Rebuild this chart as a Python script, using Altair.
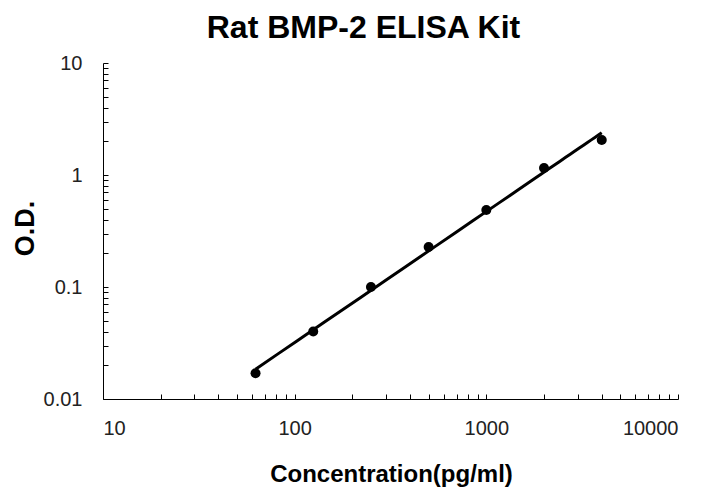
import altair as alt
import pandas as pd

# Data
conc = [62.5, 125, 250, 500, 1000, 2000, 4000]
od = [0.017, 0.040, 0.100, 0.228, 0.487, 1.155, 2.05]

x_ticks = [m * d for d in [10, 100, 1000] for m in range(1, 10)] + [10000]
y_ticks = [round(m * d, 4) for d in [0.01, 0.1, 1] for m in range(1, 10)] + [10]

df = pd.DataFrame({"conc": conc, "od": od})

label_expr = ("abs(log(datum.value)/LN10 - round(log(datum.value)/LN10)) < 1e-6 ? "
              "format(datum.value, '~g') : ''")

x_enc = alt.X("conc:Q",
              scale=alt.Scale(type="log", domain=[10, 10000], nice=False),
              axis=alt.Axis(values=x_ticks, labelExpr=label_expr, grid=False,
                            title="Concentration(pg/ml)", tickSize=alt.expr("-5"),
                            labelPadding=24, titleX=288, titleY=75, titleFontSize=24,
                            titleBaseline="middle", titleAnchor="start", titleAlign="center"))
y_enc = alt.Y("od:Q",
              scale=alt.Scale(type="log", domain=[0.01, 10], nice=False),
              axis=alt.Axis(values=y_ticks, labelExpr=label_expr, grid=False,
                            title="O.D.", tickSize=alt.expr("-5"), titleFontSize=27,
                            labelPadding=26, titleX=-78, titleY=165,
                            titleBaseline="middle", titleAlign="center", titleAngle=270))

base = alt.Chart(df)

points = base.mark_point(filled=True, color="black", size=100, opacity=1).encode(x=x_enc, y=y_enc)

line = base.transform_regression("conc", "od", method="pow").mark_line(
    color="black", strokeWidth=3).encode(x=x_enc, y=y_enc)

chart = alt.layer(line, points).properties(
    width=575, height=336,
    autosize=alt.AutoSizeParams(type="none"),
    padding={"left": 95, "top": 55, "right": 23, "bottom": 92},
    title=alt.TitleParams("Rat BMP-2 ELISA Kit", fontSize=32, font="Liberation Sans",
                          fontWeight="bold", color="black", anchor="middle", dx=-27, offset=8),
).configure_view(stroke=None).configure_axis(
    labelFont="Liberation Sans", labelFontSize=20, labelColor="#222",
    titleFont="Liberation Sans", titleFontWeight="bold", titleColor="black",
    domainColor="black", tickColor="black", domainWidth=1, tickWidth=1,
)

chart.save("out.html", embed_options={"renderer": "svg", "actions": False})
